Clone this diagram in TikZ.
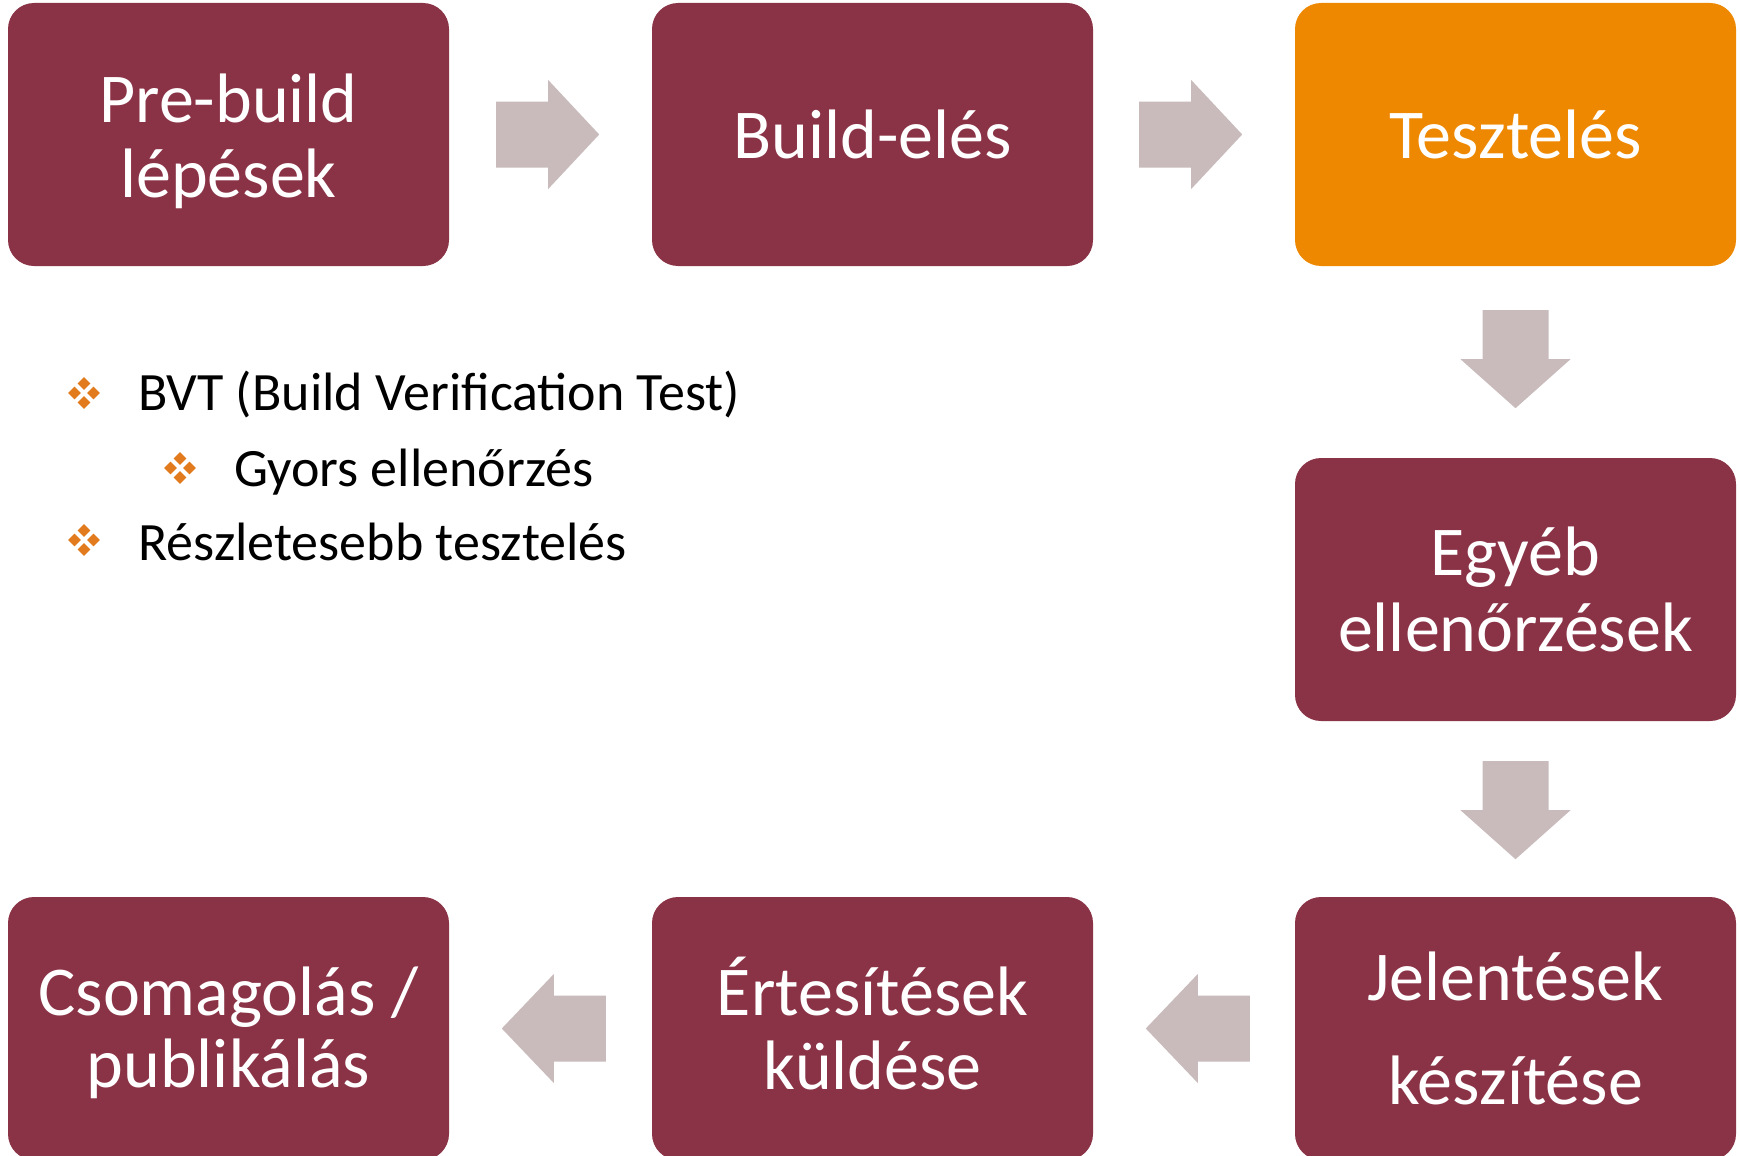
\documentclass[tikz,border=0pt]{standalone}
\usepackage{fontspec}
\setmainfont{Carlito}
\usetikzlibrary{calc}
\definecolor{boxred}{HTML}{8B3346}
\definecolor{boxorange}{HTML}{EE8800}
\definecolor{arrowgray}{HTML}{C9BBBC}
\definecolor{bulletorange}{HTML}{E27A1E}
\newcommand\twolines[3]{\vtop{\baselineskip=#3\lineskiplimit=-100pt\halign{\hfil##\hfil\cr #1\cr #2\cr}}}
\newcommand\blockarrow[6]{%
  \fill[arrowgray, shift={(#1)}, rotate=#2] (0,-33) -- (#3,-33) -- (#3,-#5) -- (#4,0) -- (#3,#5) -- (#3,33) -- (0,33) -- cycle;}
\begin{document}
\begin{tikzpicture}[x=1pt,y=-1pt,
  stepbox/.style={rectangle, rounded corners=26pt, fill=boxred, minimum width=441pt, minimum height=263pt, inner sep=0pt},
  boxtext/.style={text=white, inner sep=0pt, anchor=base, font=\fontsize{70}{75}\selectfont},
  bullettext/.style={text=black, inner sep=0pt, anchor=base west, font=\fontsize{54}{60}\selectfont},
  quad/.pic={\foreach \dx/\dy in {9.5/0,-9.5/0,0/9.5,0/-9.5}
     \fill[bulletorange] (\dx,\dy) ++(-6.3,0) -- ++(6.3,-6.3) -- ++(6.3,6.3) -- ++(-6.3,6.3) -- cycle;}]
\useasboundingbox (0,0) rectangle (1740,1156);
\clip (0,0) rectangle (1740,1156);
\fill[white] (0,0) rectangle (1740,1156);

% boxes
\node[stepbox] (pre) at (228.5,134.5) {};
\node[stepbox] (build) at (872.5,134.5) {};
\node[stepbox, fill=boxorange] (test) at (1515.5,134.5) {};
\node[stepbox] (other) at (1515.5,589.5) {};
\node[stepbox] (report) at (1515.5,1028.5) {};
\node[stepbox] (notify) at (872.5,1028.5) {};
\node[stepbox] (pack) at (228.5,1028.5) {};

% box texts
\node[boxtext] (pre-t) at ($(pre.center)+(0,-12.5)$) {\twolines{Pre-build}{lépések}{75pt}};
\node[boxtext] (build-t) at ($(build.center)+(0,23.5)$) {Build-elés};
\node[boxtext] (test-t) at ($(test.center)+(0,23.5)$) {Tesztelés};
\node[boxtext] (other-t) at ($(other.center)+(0,-14.5)$) {\twolines{Egyéb}{ellenőrzések}{76pt}};
\node[boxtext] (report-t) at ($(report.center)+(0,-28.5)$) {\twolines{Jelentések}{készítése}{104pt}};
\node[boxtext] (notify-t) at ($(notify.center)+(0,-13.5)$) {\twolines{Értesítések}{küldése}{74pt}};
\node[boxtext] (pack-t) at ($(pack.center)+(0,-13.5)$) {\twolines{Csomagolás /}{publikálás}{72pt}};

% arrows
\blockarrow{$(pre.east)+(47,0)$}{0}{52}{103}{54.5}{}
\blockarrow{$(build.east)+(46,0)$}{0}{52}{103}{54.5}{}
\blockarrow{$(test.south)+(0,44)$}{-90}{49}{98}{55}{}
\blockarrow{$(other.south)+(0,40)$}{-90}{49}{98}{55}{}
\blockarrow{$(report.west)+(-45,0)$}{180}{52}{104}{54.5}{}
\blockarrow{$(notify.west)+(-46,0)$}{180}{52}{104}{54.5}{}

% bullet list
\pic at (84,393) {quad};
\node[bullettext] (b1) at (138,410) {BVT (Build Verification Test)};
\pic at (180,468) {quad};
\node[bullettext] (b2) at (234,486) {Gyors ellenőrzés};
\pic at (84,540) {quad};
\node[bullettext] (b3) at (138,560) {Részletesebb tesztelés};
\end{tikzpicture}
\end{document}
